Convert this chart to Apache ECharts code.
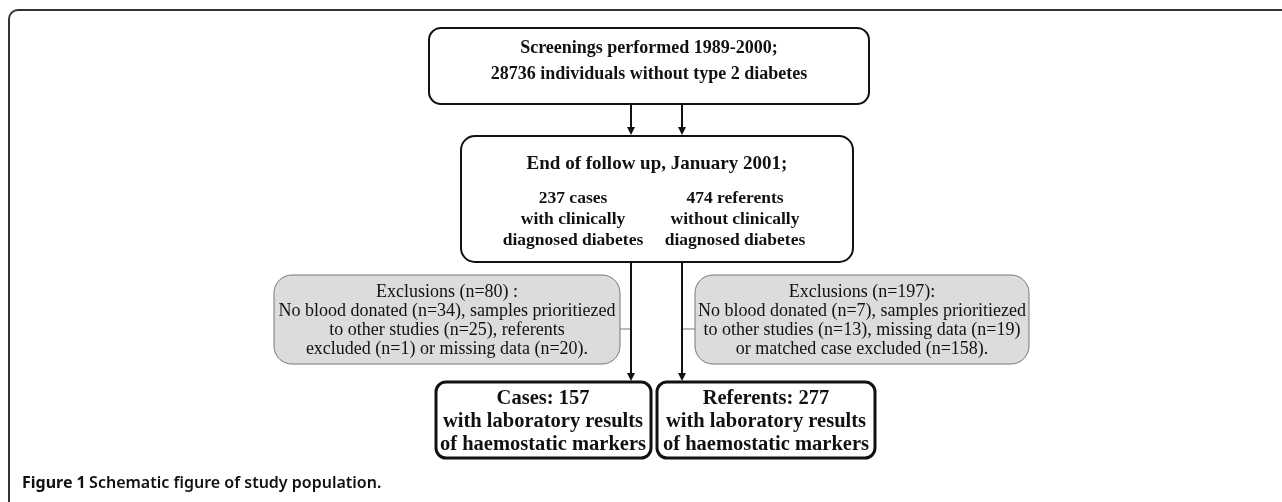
<!DOCTYPE html>
<html><head><meta charset="utf-8">
<script src="https://cdn.jsdelivr.net/npm/echarts@6/dist/echarts.min.js"></script>
<style>html,body{margin:0;padding:0;background:#fff;overflow:hidden}#c{width:1282px;height:502px}</style>
</head><body><div id="c"></div>
<script>
// ---- content ----
const topBoxLines = ['Screenings performed 1989-2000;', '28736 individuals without type 2 diabetes'];
const followUpTitle = ['End of follow up, January 2001;'];
const casesLines = ['237 cases', 'with clinically', 'diagnosed diabetes'];
const referentsLines = ['474 referents', 'without clinically', 'diagnosed diabetes'];
const exclCasesLines = ['Exclusions (n=80) :', 'No blood donated (n=34), samples prioritiezed', 'to other studies (n=25), referents', 'excluded (n=1) or missing data (n=20).'];
const exclRefLines = ['Exclusions (n=197):', 'No blood donated (n=7), samples prioritiezed', 'to other studies (n=13), missing data (n=19)', 'or matched case excluded (n=158).'];
const finalCasesLines = ['Cases: 157', 'with laboratory results', 'of haemostatic markers'];
const finalRefLines = ['Referents: 277', 'with laboratory results', 'of haemostatic markers'];
const captionParts = ['Figure 1', 'Schematic figure of study population.'];

// ---- layout ----
const SERIF = '"Liberation Serif", "Times New Roman", serif';
const INK = '#111';
const els = [];

function box(x, y, w, h, r, lw, fill, stroke) {
  els.push({type: 'rect', shape: {x, y, width: w, height: h, r}, style: {fill: fill || '#fff', stroke: stroke || INK, lineWidth: lw}, z: 1});
}
function lines(arr, cx, y0, dy, size, weight) {
  arr.forEach((t, i) => els.push({type: 'text', x: cx, y: y0 + i * dy, style: {text: t, fill: INK, font: weight + ' ' + size + 'px ' + SERIF, textAlign: 'center', textVerticalAlign: 'middle'}, z: 3}));
}
function seg(x1, y1, x2, y2, lw, color) {
  els.push({type: 'line', shape: {x1, y1, x2, y2}, style: {stroke: color || INK, lineWidth: lw}, z: 2});
}
function arrow(x, y1, y2) {
  seg(x, y1, x, y2 - 6, 2);
  els.push({type: 'polygon', shape: {points: [[x - 4, y2 - 8], [x + 4, y2 - 8], [x, y2]]}, style: {fill: INK}, z: 2});
}

// outer frame (only top and left edges visible)
const FRAME = '#333';
seg(9, 19, 9, 502, 2, FRAME);
seg(18, 10, 1282, 10, 2, FRAME);
els.push({type: 'arc', shape: {cx: 18, cy: 19, r: 9, startAngle: Math.PI, endAngle: Math.PI * 1.5}, style: {stroke: FRAME, lineWidth: 2, fill: 'none'}, z: 2});

box(429, 28, 440, 76, 12, 2);
lines(topBoxLines, 649, 48, 26, 18, 'bold');

arrow(631, 104, 135);
arrow(682, 104, 135);

box(461, 136, 392, 126, 14, 2);
lines(followUpTitle, 657, 164, 0, 19, 'bold');
lines(casesLines, 573, 198, 21, 17.5, 'bold');
lines(referentsLines, 735, 198, 21, 17.5, 'bold');

seg(620, 329, 631, 329, 1, '#777');
seg(682, 329, 695, 329, 1, '#777');
arrow(631, 262, 381);
arrow(682, 262, 381);

box(274, 275, 346, 89, 18, 1, '#dcdcdc', '#777');
lines(exclCasesLines, 447, 292, 19, 18, 'normal');
box(695, 275, 334, 89, 18, 1, '#dcdcdc', '#777');
lines(exclRefLines, 862, 292, 19, 18, 'normal');

box(436, 382, 215, 76, 10, 3);
lines(finalCasesLines, 543, 399, 23, 20.5, 'bold');
box(657, 382, 218, 76, 10, 3);
lines(finalRefLines, 766, 399, 23, 20.5, 'bold');

els.push({type: 'text', x: 22, y: 483, style: {
  text: '{b|' + captionParts[0] + '} {n|' + captionParts[1] + '}',
  textVerticalAlign: 'middle',
  rich: {
    b: {font: 'bold 16px "Noto Sans", sans-serif', fill: INK},
    n: {font: '600 16px "Noto Sans", sans-serif', fill: INK}
  }
}, z: 3});

const chart = echarts.init(document.getElementById('c'), null, {renderer: 'canvas'});
chart.setOption({backgroundColor: '#fff', animation: false, graphic: {elements: els}});
</script></body></html>
